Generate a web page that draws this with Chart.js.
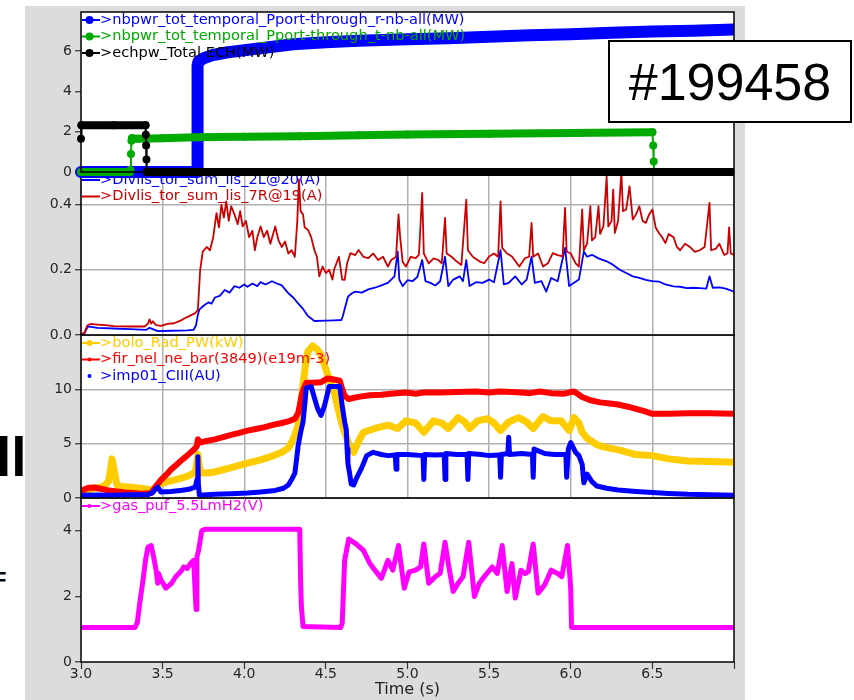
<!DOCTYPE html>
<html>
<head>
<meta charset="utf-8">
<script src="https://cdn.jsdelivr.net/npm/chart.js@4.4.1/dist/chart.umd.min.js"></script>
<style>
  body { margin: 0; background: #fff; width: 854px; height: 700px; overflow: hidden; position: relative; }
  #panel { position: absolute; left: 25px; top: 6px; width: 720px; height: 694px; background: #dcdcdc; }
  canvas { position: absolute; left: 25px; }
  #shot { position: absolute; left: 608px; top: 40px; width: 244px; height: 83px; box-sizing: border-box;
          border: 2px solid #000; background: #fff; font: 52px "Liberation Sans", Arial, sans-serif;
          display: flex; align-items: center; justify-content: center; z-index: 10; }
  .cut { position: absolute; font-family: "Liberation Sans", Arial, sans-serif; font-weight: bold; line-height: 1; color: #000; }
</style>
</head>
<body>
<div id="panel"></div>
<canvas id="c1" width="720" height="172" style="top:8px;z-index:4"></canvas>
<canvas id="c2" width="720" height="173" style="top:170px;z-index:3"></canvas>
<canvas id="c3" width="720" height="173" style="top:333px;z-index:2"></canvas>
<canvas id="c4" width="720" height="204" style="top:496px;z-index:1"></canvas>
<div id="shot">#199458</div>
<span class="cut" style="left:-4px;top:430px;font-size:55px">ll</span>
<span class="cut" style="left:-7px;top:569px;font-size:22px">F</span>
<script>
// time ticks (s)
const xTicks = [3.0, 3.5, 4.0, 4.5, 5.0, 5.5, 6.0, 6.5, 7.0];

// panel 1 : heating powers (MW)
const nbrT = [3.0, 3.712, 3.714, 3.72, 3.75, 3.8, 3.9, 4.0, 4.15, 4.3, 4.5, 4.7, 5.0, 5.25, 5.5, 5.75, 6.0, 6.25, 6.5, 6.75, 7.0];
const nbrV = [0, 0, 5.3, 5.5, 5.65, 5.8, 5.95, 6.05, 6.2, 6.35, 6.45, 6.52, 6.6, 6.65, 6.72, 6.8, 6.85, 6.92, 6.98, 7.02, 7.08];
const nbtT = [3.0, 3.3, 3.303, 3.306, 3.309, 3.312, 3.35, 3.5, 3.7, 4.0, 4.34, 4.7, 5.0, 5.5, 6.0, 6.5, 6.505, 6.508, 6.511, 7.0];
const nbtV = [0, 0, 0.1, 0.9, 1.55, 1.68, 1.65, 1.68, 1.73, 1.75, 1.78, 1.82, 1.86, 1.9, 1.94, 1.97, 1.32, 0.52, 0, 0];
const echT = [3.0, 3.003, 3.2, 3.395, 3.397, 3.399, 3.401, 3.403, 5.0, 7.0];
const echV = [1.65, 2.32, 2.32, 2.32, 1.85, 1.32, 0.62, 0, 0, 0];

// panel 2 : divertor Langmuir probes (A)
const div2LT = [3.0, 3.02, 3.04, 3.05, 3.1, 3.2, 3.3, 3.4, 3.42, 3.44, 3.47, 3.55, 3.65, 3.69, 3.705, 3.715, 3.725, 3.74, 3.757, 3.78, 3.8, 3.82, 3.85, 3.88, 3.91, 3.94, 3.97, 4.0, 4.02, 4.05, 4.08, 4.1, 4.13, 4.17, 4.2, 4.23, 4.25, 4.27, 4.3, 4.33, 4.36, 4.39, 4.43, 4.5, 4.55, 4.595, 4.605, 4.615, 4.636, 4.66, 4.68, 4.72, 4.76, 4.8, 4.84, 4.88, 4.92, 4.94, 4.95, 4.97, 5.0, 5.03, 5.06, 5.09, 5.11, 5.14, 5.17, 5.2, 5.23, 5.25, 5.28, 5.32, 5.34, 5.36, 5.38, 5.42, 5.46, 5.5, 5.53, 5.57, 5.59, 5.62, 5.66, 5.7, 5.73, 5.76, 5.78, 5.82, 5.85, 5.88, 5.92, 5.965, 5.99, 6.02, 6.05, 6.08, 6.1, 6.13, 6.17, 6.22, 6.26, 6.3, 6.34, 6.38, 6.42, 6.46, 6.5, 6.54, 6.58, 6.63, 6.67, 6.71, 6.75, 6.79, 6.83, 6.85, 6.87, 6.91, 6.95, 7.0];
const div2LV = [0.003, 0.004, 0.024, 0.026, 0.022, 0.02, 0.018, 0.016, 0.022, 0.018, 0.012, 0.013, 0.014, 0.016, 0.03, 0.06, 0.078, 0.085, 0.092, 0.1, 0.096, 0.115, 0.12, 0.138, 0.13, 0.15, 0.145, 0.155, 0.148, 0.158, 0.15, 0.162, 0.155, 0.165, 0.158, 0.152, 0.14, 0.128, 0.115, 0.097, 0.08, 0.058, 0.043, 0.044, 0.045, 0.046, 0.06, 0.08, 0.118, 0.128, 0.133, 0.13, 0.14, 0.145, 0.152, 0.16, 0.18, 0.256, 0.17, 0.15, 0.168, 0.165, 0.178, 0.23, 0.165, 0.16, 0.152, 0.165, 0.24, 0.15, 0.17, 0.18, 0.165, 0.23, 0.15, 0.162, 0.16, 0.17, 0.162, 0.26, 0.155, 0.16, 0.18, 0.155, 0.17, 0.24, 0.16, 0.165, 0.133, 0.175, 0.165, 0.267, 0.15, 0.16, 0.17, 0.256, 0.24, 0.246, 0.235, 0.226, 0.215, 0.2, 0.19, 0.18, 0.175, 0.169, 0.165, 0.164, 0.155, 0.149, 0.148, 0.144, 0.145, 0.144, 0.142, 0.18, 0.145, 0.146, 0.142, 0.133];
const div7RT = [3.0, 3.02, 3.04, 3.06, 3.1, 3.15, 3.2, 3.3, 3.39, 3.41, 3.42, 3.43, 3.44, 3.46, 3.49, 3.53, 3.57, 3.61, 3.65, 3.7, 3.716, 3.73, 3.746, 3.77, 3.79, 3.81, 3.83, 3.845, 3.86, 3.875, 3.89, 3.905, 3.92, 3.94, 3.96, 3.975, 3.99, 4.01, 4.03, 4.05, 4.065, 4.08, 4.1, 4.12, 4.14, 4.16, 4.19, 4.21, 4.23, 4.25, 4.27, 4.29, 4.31, 4.325, 4.335, 4.345, 4.36, 4.37, 4.39, 4.41, 4.43, 4.445, 4.46, 4.48, 4.5, 4.52, 4.54, 4.55, 4.58, 4.6, 4.615, 4.63, 4.65, 4.68, 4.7, 4.73, 4.76, 4.79, 4.82, 4.85, 4.88, 4.9, 4.93, 4.945, 4.955, 4.97, 4.99, 5.02, 5.05, 5.07, 5.09, 5.1, 5.13, 5.16, 5.19, 5.21, 5.23, 5.24, 5.27, 5.3, 5.33, 5.36, 5.37, 5.4, 5.44, 5.47, 5.5, 5.53, 5.555, 5.57, 5.58, 5.61, 5.64, 5.685, 5.72, 5.745, 5.76, 5.77, 5.8, 5.83, 5.86, 5.89, 5.92, 5.95, 5.965, 5.975, 6.0, 6.03, 6.05, 6.07, 6.08, 6.1, 6.12, 6.13, 6.15, 6.17, 6.18, 6.2, 6.22, 6.23, 6.25, 6.26, 6.27, 6.29, 6.31, 6.32, 6.34, 6.36, 6.38, 6.4, 6.42, 6.44, 6.46, 6.48, 6.5, 6.52, 6.54, 6.56, 6.58, 6.6, 6.63, 6.65, 6.67, 6.7, 6.73, 6.76, 6.79, 6.82, 6.85, 6.86, 6.89, 6.91, 6.94, 6.96, 6.97, 6.98, 7.0];
const div7RV = [0.003, 0.006, 0.03, 0.034, 0.032, 0.03, 0.027, 0.026, 0.026, 0.035, 0.048, 0.035, 0.042, 0.03, 0.028, 0.034, 0.036, 0.044, 0.055, 0.067, 0.077, 0.2, 0.256, 0.27, 0.26, 0.3, 0.374, 0.33, 0.4, 0.36, 0.41, 0.35, 0.395, 0.37, 0.34, 0.38, 0.333, 0.35, 0.3, 0.32, 0.26, 0.3, 0.333, 0.3, 0.32, 0.28, 0.333, 0.29, 0.27, 0.287, 0.25, 0.26, 0.24, 0.35, 0.477, 0.38, 0.37, 0.33, 0.323, 0.3, 0.26, 0.24, 0.18, 0.21, 0.19, 0.2, 0.17, 0.2, 0.24, 0.17, 0.169, 0.22, 0.251, 0.245, 0.261, 0.24, 0.236, 0.25, 0.23, 0.24, 0.21, 0.23, 0.24, 0.37, 0.3, 0.225, 0.21, 0.24, 0.236, 0.246, 0.436, 0.25, 0.22, 0.235, 0.23, 0.22, 0.359, 0.25, 0.24, 0.226, 0.215, 0.415, 0.26, 0.24, 0.226, 0.22, 0.241, 0.25, 0.24, 0.41, 0.267, 0.25, 0.241, 0.21, 0.236, 0.24, 0.344, 0.24, 0.25, 0.21, 0.22, 0.251, 0.245, 0.241, 0.39, 0.256, 0.25, 0.22, 0.21, 0.385, 0.26, 0.28, 0.395, 0.29, 0.3, 0.395, 0.31, 0.333, 0.487, 0.333, 0.35, 0.446, 0.313, 0.35, 0.497, 0.38, 0.385, 0.456, 0.354, 0.37, 0.395, 0.35, 0.344, 0.37, 0.385, 0.33, 0.313, 0.3, 0.282, 0.31, 0.3, 0.27, 0.26, 0.28, 0.27, 0.255, 0.26, 0.27, 0.405, 0.26, 0.265, 0.28, 0.246, 0.25, 0.33, 0.25, 0.246];

// panel 3 : radiation (kW), line density (e19 m-3), CIII (AU)
const boloT = [3.0, 3.04, 3.08, 3.12, 3.15, 3.17, 3.18, 3.19, 3.2, 3.21, 3.22, 3.25, 3.31, 3.36, 3.41, 3.44, 3.47, 3.5, 3.53, 3.57, 3.61, 3.65, 3.695, 3.705, 3.716, 3.725, 3.735, 3.77, 3.82, 3.87, 3.92, 3.97, 4.02, 4.07, 4.12, 4.17, 4.23, 4.27, 4.29, 4.31, 4.33, 4.345, 4.36, 4.375, 4.39, 4.42, 4.445, 4.47, 4.49, 4.51, 4.535, 4.555, 4.575, 4.595, 4.615, 4.635, 4.65, 4.67, 4.7, 4.73, 4.8, 4.88, 4.94, 4.99, 5.05, 5.1, 5.16, 5.21, 5.25, 5.31, 5.35, 5.38, 5.43, 5.49, 5.53, 5.57, 5.62, 5.68, 5.73, 5.77, 5.83, 5.88, 5.94, 5.99, 6.02, 6.05, 6.07, 6.1, 6.12, 6.16, 6.2, 6.3, 6.4, 6.5, 6.6, 6.72, 6.85, 7.0];
const boloV = [0.35, 0.7, 0.9, 1.0, 1.2, 1.6, 2.5, 3.6, 2.8, 2.0, 1.2, 1.05, 1.0, 0.9, 0.8, 0.7, 1.2, 1.35, 1.5, 1.65, 1.8, 2.0, 2.3, 2.8, 4.0, 2.9, 2.3, 2.3, 2.4, 2.6, 2.8, 3.0, 3.2, 3.4, 3.6, 3.85, 4.2, 4.6, 5.1, 5.8, 6.7, 8.5, 10.4, 12.2, 13.5, 14.0, 13.7, 13.2, 12.3, 11.4, 10.4, 9.5, 8.2, 7.0, 6.0, 5.2, 4.5, 4.2, 5.2, 6.05, 6.4, 6.7, 6.4, 7.1, 6.9, 6.05, 7.1, 6.9, 6.4, 7.4, 7.0, 6.4, 7.1, 7.3, 6.9, 6.2, 7.0, 7.4, 7.0, 6.4, 7.5, 7.1, 7.1, 6.2, 7.4, 6.9, 6.05, 5.5, 5.3, 4.9, 4.7, 4.4, 4.0, 3.9, 3.6, 3.4, 3.35, 3.3];
const firT = [3.0, 3.02, 3.05, 3.08, 3.12, 3.16, 3.22, 3.27, 3.32, 3.37, 3.43, 3.46, 3.49, 3.52, 3.55, 3.58, 3.61, 3.65, 3.695, 3.71, 3.716, 3.73, 3.77, 3.82, 3.87, 3.92, 3.97, 4.02, 4.07, 4.12, 4.17, 4.23, 4.28, 4.31, 4.33, 4.34, 4.35, 4.36, 4.38, 4.42, 4.47, 4.51, 4.55, 4.585, 4.6, 4.615, 4.64, 4.68, 4.72, 4.77, 4.84, 4.9, 4.99, 5.05, 5.1, 5.2, 5.3, 5.42, 5.5, 5.56, 5.64, 5.7, 5.75, 5.81, 5.88, 5.96, 6.0, 6.02, 6.05, 6.07, 6.12, 6.18, 6.24, 6.29, 6.35, 6.4, 6.45, 6.5, 6.6, 6.72, 6.85, 7.0];
const firV = [0.56, 0.8, 0.95, 0.97, 0.85, 0.72, 0.6, 0.5, 0.45, 0.4, 0.47, 1.1, 1.66, 2.1, 2.6, 3.0, 3.4, 3.9, 4.5, 4.8, 5.4, 5.1, 5.25, 5.4, 5.6, 5.8, 6.0, 6.2, 6.35, 6.5, 6.7, 6.9, 7.1, 7.3, 7.8, 8.5, 9.3, 9.9, 10.6, 10.6, 10.65, 11.0, 10.9, 10.8, 10.0, 9.4, 9.1, 9.25, 9.35, 9.45, 9.5, 9.6, 9.7, 9.6, 9.7, 9.7, 9.75, 9.8, 9.7, 9.8, 9.75, 9.7, 9.65, 9.8, 9.65, 9.6, 9.75, 9.8, 9.5, 9.3, 9.0, 8.8, 8.7, 8.6, 8.4, 8.2, 8.0, 7.75, 7.75, 7.8, 7.8, 7.75];
const ciiiT = [3.0, 3.1, 3.2, 3.3, 3.41, 3.44, 3.46, 3.47, 3.49, 3.55, 3.61, 3.66, 3.7, 3.712, 3.716, 3.719, 3.725, 3.82, 3.92, 4.02, 4.1, 4.19, 4.24, 4.27, 4.29, 4.31, 4.32, 4.33, 4.345, 4.36, 4.37, 4.38, 4.41, 4.43, 4.45, 4.47, 4.49, 4.51, 4.52, 4.585, 4.6, 4.615, 4.625, 4.63, 4.635, 4.645, 4.655, 4.67, 4.69, 4.72, 4.75, 4.79, 4.84, 4.88, 4.925, 4.93, 4.935, 5.0, 5.095, 5.1, 5.105, 5.17, 5.225, 5.23, 5.235, 5.3, 5.365, 5.37, 5.375, 5.45, 5.5, 5.565, 5.57, 5.575, 5.615, 5.62, 5.625, 5.7, 5.765, 5.77, 5.775, 5.84, 5.9, 5.97, 5.975, 5.985, 6.0, 6.03, 6.05, 6.07, 6.08, 6.1, 6.13, 6.16, 6.22, 6.29, 6.4, 6.5, 6.6, 6.72, 6.85, 7.0];
const ciiiV = [0.25, 0.28, 0.25, 0.3, 0.3, 0.5, 0.9, 1.0, 0.55, 0.6, 0.7, 0.8, 1.0, 1.8, 3.8, 1.3, 0.25, 0.35, 0.4, 0.45, 0.55, 0.7, 0.9, 1.2, 1.7, 2.3, 3.5, 4.8, 6.0, 7.0, 8.5, 10.1, 10.25, 9.2, 8.2, 7.6, 8.4, 9.6, 10.25, 10.25, 8.5, 7.0, 6.3, 4.5, 3.2, 2.3, 1.3, 1.2, 1.9, 2.8, 3.9, 4.2, 4.0, 3.9, 3.95, 2.65, 4.0, 4.0, 3.9, 1.7, 4.0, 3.95, 4.0, 1.7, 4.1, 4.0, 4.0, 1.7, 4.1, 4.0, 3.9, 3.95, 1.9, 4.0, 4.1, 5.6, 4.0, 4.1, 4.0, 1.9, 4.5, 4.1, 4.0, 4.0, 1.9, 4.5, 5.1, 4.2, 3.9, 3.1, 1.4, 2.2, 1.5, 1.1, 0.9, 0.74, 0.6, 0.5, 0.42, 0.34, 0.3, 0.25];

// panel 4 : gas puff (V)
const gasT = [3.0, 3.33, 3.345, 3.36, 3.38, 3.395, 3.41, 3.43, 3.445, 3.46, 3.47, 3.475, 3.49, 3.52, 3.555, 3.58, 3.61, 3.63, 3.65, 3.67, 3.69, 3.705, 3.71, 3.72, 3.74, 3.76, 4.0, 4.34, 4.345, 4.35, 4.36, 4.59, 4.6, 4.615, 4.64, 4.685, 4.73, 4.77, 4.8, 4.84, 4.88, 4.91, 4.945, 4.98, 5.01, 5.05, 5.08, 5.1, 5.13, 5.17, 5.2, 5.23, 5.25, 5.28, 5.31, 5.34, 5.375, 5.41, 5.44, 5.47, 5.52, 5.55, 5.58, 5.61, 5.64, 5.66, 5.695, 5.72, 5.74, 5.77, 5.8, 5.84, 5.88, 5.92, 5.945, 5.98, 5.995, 6.0, 6.005, 7.0];
const gasV = [1.05, 1.05, 1.2, 1.8, 2.5, 3.1, 3.5, 3.55, 3.2, 2.8, 2.4, 2.7, 2.5, 2.25, 2.4, 2.6, 2.75, 2.9, 2.85, 3.0, 3.1, 1.6, 3.2, 3.4, 4.0, 4.05, 4.05, 4.05, 2.5, 1.7, 1.08, 1.05, 1.18, 3.1, 3.75, 3.6, 3.4, 3.0, 2.8, 2.55, 3.1, 2.8, 3.55, 2.25, 2.75, 2.8, 2.9, 3.6, 2.4, 2.6, 2.7, 3.65, 3.0, 2.15, 2.4, 2.6, 3.65, 2.0, 2.4, 2.6, 2.9, 2.7, 3.55, 2.15, 3.0, 1.95, 2.8, 2.7, 2.75, 3.6, 2.1, 2.35, 2.8, 2.7, 2.6, 3.55, 2.6, 2.2, 1.05, 1.05];

const FONT = 'DejaVu Sans';

function pts(t, v) {
    return t.map(function (x, i) { return { x: x, y: v[i] }; });
}

// white plot area, black frame and the little matplotlib-style legend
function framePlugin(items) {
    return {
        id: 'frame',
        beforeDraw: function (chart) {
            var a = chart.chartArea, ctx = chart.ctx;
            ctx.save();
            ctx.fillStyle = '#fff';
            ctx.fillRect(a.left, a.top, a.right - a.left, a.bottom - a.top);
            ctx.restore();
        },
        afterDraw: function (chart) {
            var a = chart.chartArea, ctx = chart.ctx;
            ctx.save();
            ctx.strokeStyle = '#000';
            ctx.lineWidth = 1.5;
            ctx.strokeRect(a.left, a.top, a.right - a.left, a.bottom - a.top);
            ctx.font = '14.6px "' + FONT + '"';
            ctx.textBaseline = 'middle';
            items.forEach(function (it, i) {
                var y = a.top + 8 + i * 16.5;
                var x0 = a.left + 1;
                ctx.strokeStyle = it.color;
                ctx.fillStyle = it.color;
                if (it.line) {
                    ctx.lineWidth = 2;
                    ctx.beginPath();
                    ctx.moveTo(x0, y);
                    ctx.lineTo(x0 + 18, y);
                    ctx.stroke();
                }
                if (it.dot) {
                    ctx.beginPath();
                    ctx.arc(x0 + 7.5, y, it.dot, 0, Math.PI * 2);
                    ctx.fill();
                }
                ctx.fillText(it.text, x0 + 18, y);
            });
            ctx.restore();
        }
    };
}

function yAxis(min, max, ticks, digits, grid) {
    return {
        type: 'linear', min: min, max: max,
        afterBuildTicks: function (s) { s.ticks = ticks.map(function (v) { return { value: v }; }); },
        afterFit: function (s) { s.width = 56; s.paddingTop = 0; s.paddingBottom = 0; },
        ticks: { font: { family: FONT, size: 14 }, color: '#262626', padding: 3,
                 callback: function (v) { return v.toFixed(digits); } },
        grid: { drawOnChartArea: grid, color: '#b0b0b0', lineWidth: 1.5, tickLength: 6, tickColor: '#333', tickWidth: 1.2 },
        border: { display: false }
    };
}

function xAxis(kind) {
    var ax = {
        type: 'linear', min: 3, max: 7,
        afterBuildTicks: function (s) { s.ticks = xTicks.map(function (v) { return { value: v }; }); }
    };
    if (kind === 'none') {
        ax.display = false;
    } else if (kind === 'grid') {
        ax.afterFit = function (s) { s.height = 0; s.paddingLeft = 0; s.paddingRight = 0; };
        ax.ticks = { display: false };
        ax.grid = { color: '#b0b0b0', lineWidth: 1.5, drawTicks: false };
        ax.border = { display: false };
    } else {
        ax.afterFit = function (s) { s.height = 38; s.paddingLeft = 0; s.paddingRight = 0; };
        ax.ticks = { font: { family: FONT, size: 14 }, color: '#262626', padding: -3, maxRotation: 0, autoSkip: false,
                     callback: function (v) { return v === 7 ? '' : v.toFixed(1); } };
        ax.grid = { drawOnChartArea: false, tickLength: 7, tickColor: '#333', tickWidth: 1.2 };
        ax.border = { display: false };
        ax.title = { display: true, text: 'Time (s)', font: { family: FONT, size: 16 }, color: '#222', padding: { top: 0, bottom: 1 } };
    }
    return ax;
}

function line(t, v, color, width, extra) {
    return Object.assign({
        data: pts(t, v), borderColor: color, backgroundColor: color, pointBackgroundColor: color,
        borderWidth: width, pointRadius: 0, pointBorderWidth: 0, fill: false, tension: 0,
        borderJoinStyle: 'round', borderCapStyle: 'round'
    }, extra || {});
}

function panel(id, datasets, x, y, pad, legendItems) {
    return new Chart(document.getElementById(id), {
        type: 'line',
        data: { datasets: datasets },
        options: {
            responsive: false, animation: false, devicePixelRatio: 1,
            layout: { padding: pad },
            plugins: { legend: { display: false }, tooltip: { enabled: false } },
            scales: { x: x, y: y }
        },
        plugins: [framePlugin(legendItems)]
    });
}

// thin connecting line on the jumps, thick band elsewhere
function stepSeg(thick) {
    return { borderWidth: function (c) { return Math.abs(c.p1.parsed.x - c.p0.parsed.x) < 0.01 ? 2 : thick; } };
}
var clip1 = { left: 6, top: 4, right: 0, bottom: 6 };

panel('c1', [
    line(nbrT, nbrV, '#0000ff', 12, { order: 2, clip: clip1 }),
    line(nbtT, nbtV, '#00aa00', 8, { order: 1, clip: clip1, pointRadius: 4, segment: stepSeg(8) }),
    line(echT, echV, '#000000', 8, { order: 0, clip: clip1, pointRadius: 4, segment: stepSeg(8) })
], xAxis('none'), yAxis(0, 7.95, [0, 2, 4, 6], 0, false), { top: 2, bottom: 8, right: 11, left: 0 }, [
    { text: '>nbpwr_tot_temporal_Pport-through_r-nb-all(MW)', color: '#0000ff', line: true, dot: 4 },
    { text: '>nbpwr_tot_temporal_Pport-through_t-nb-all(MW)', color: '#00aa00', line: true, dot: 4 },
    { text: '>echpw_Total ECH(MW)', color: '#000000', line: true, dot: 4 }
]);

panel('c2', [
    line(div2LT, div2LV, '#0000ff', 1.8, { order: 1 }),
    line(div7RT, div7RV, '#cc0000', 1.8, { order: 0 })
], xAxis('grid'), yAxis(0, 0.5, [0, 0.2, 0.4], 1, true), { top: 2, bottom: 8, right: 11, left: 0 }, [
    { text: '>Divlis_tor_sum_lis_2L@20(A)', color: '#0000ff', line: true },
    { text: '>Divlis_tor_sum_lis_7R@19(A)', color: '#cc0000', line: true }
]);

panel('c3', [
    line(boloT, boloV, '#ffcc00', 7, { order: 2 }),
    line(firT, firV, '#ff0000', 6, { order: 1 }),
    line(ciiiT, ciiiV, '#0000ff', 5, { order: 0 })
], xAxis('grid'), yAxis(0, 15, [0, 5, 10], 0, true), { top: 2, bottom: 8, right: 11, left: 0 }, [
    { text: '>bolo_Rad_PW(kW)', color: '#ffcc00', line: true, dot: 3 },
    { text: '>fir_nel_ne_bar(3849)(e19m-3)', color: '#ff0000', line: true, dot: 2 },
    { text: '>imp01_CIII(AU)', color: '#0000ff', dot: 2 }
]);

panel('c4', [
    line(gasT, gasV, '#ff00ff', 5)
], xAxis('time'), yAxis(0, 5, [0, 2, 4], 0, false), { top: 2, bottom: 0, right: 11, left: 0 }, [
    { text: '>gas_puf_5.5LmH2(V)', color: '#ff00ff', line: true, dot: 2 }
]);
</script>
</body>
</html>
